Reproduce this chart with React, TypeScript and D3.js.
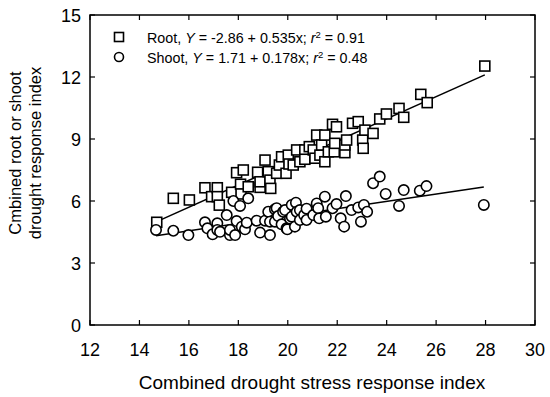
import React from "react";
import * as d3 from "d3";

const xTicks = [12, 14, 16, 18, 20, 22, 24, 26, 28, 30];
const yTicks = [0, 3, 6, 9, 12, 15];

// [combined stress index, root index]
const rootPoints: [number, number][] = [
  [14.7, 4.97], [15.37, 6.13], [16.02, 6.05], [16.65, 6.64], [16.92, 6.21], [17.15, 6.64],
  [17.15, 6.21], [17.23, 5.8], [17.73, 6.42], [17.93, 7.37], [18.09, 6.81], [18.11, 6.34],
  [18.2, 7.5], [18.4, 6.69], [18.78, 7.39], [18.88, 6.66], [18.88, 6.93], [19.08, 7.98],
  [19.21, 7.42], [19.28, 7.01], [19.31, 6.61], [19.55, 7.34], [19.66, 7.74], [19.75, 8.14],
  [19.93, 7.34], [20.02, 8.22], [20.05, 7.79], [20.22, 7.74], [20.36, 8.47], [20.49, 7.9],
  [20.69, 8.47], [20.69, 8.02], [20.87, 8.63], [21.03, 8.47], [21.1, 8.07], [21.17, 9.19],
  [21.3, 8.22], [21.37, 8.71], [21.5, 9.19], [21.5, 7.9], [21.64, 8.38], [21.81, 9.71],
  [21.88, 8.38], [21.9, 8.79], [21.97, 9.59], [22.31, 8.34], [22.31, 8.71], [22.38, 8.95],
  [22.62, 9.76], [22.85, 9.84], [23.03, 8.95], [23.05, 8.55], [23.12, 9.43], [23.45, 9.27],
  [23.72, 9.97], [23.99, 10.21], [24.5, 10.48], [24.69, 10.05], [25.38, 11.16], [25.64, 10.76],
  [27.97, 12.53],
];

// [combined stress index, shoot index]
const shootPoints: [number, number][] = [
  [14.67, 4.6], [15.37, 4.56], [15.98, 4.35], [16.65, 4.97], [16.75, 4.68], [16.96, 4.39],
  [17.15, 4.92], [17.15, 4.6], [17.26, 4.51], [17.53, 5.32], [17.66, 4.35], [17.66, 4.6],
  [17.8, 6.0], [17.87, 4.35], [17.93, 5.03], [18.07, 5.76], [18.14, 4.76], [18.27, 4.63],
  [18.34, 4.95], [18.4, 6.13], [18.74, 5.05], [18.88, 4.47], [19.08, 5.05], [19.21, 5.48],
  [19.28, 4.35], [19.28, 5.0], [19.48, 5.6], [19.48, 5.0], [19.55, 5.65], [19.61, 5.27],
  [19.75, 4.87], [19.81, 5.48], [19.89, 5.56], [19.95, 4.68], [19.98, 4.63], [20.09, 5.15],
  [20.16, 5.81], [20.16, 5.24], [20.29, 4.76], [20.33, 5.92], [20.36, 5.48], [20.49, 5.56],
  [20.49, 5.08], [20.66, 5.32], [20.76, 5.63], [20.76, 5.08], [21.03, 5.32], [21.17, 5.88],
  [21.23, 5.65], [21.27, 5.16], [21.5, 6.21], [21.54, 5.24], [21.81, 5.65], [21.97, 5.85],
  [22.14, 5.16], [22.28, 4.76], [22.35, 6.24], [22.58, 5.56], [22.85, 5.69], [22.96, 5.0],
  [23.08, 5.81], [23.21, 5.48], [23.45, 6.86], [23.72, 7.18], [23.96, 6.34], [24.5, 5.76],
  [24.69, 6.53], [25.34, 6.5], [25.61, 6.72], [27.93, 5.81],
];

// regression fits [intercept, slope]
const rootFit = [-2.86, 0.535];
const shootFit = [1.71, 0.178];

const W = 550;
const H = 397;
const margin = { left: 90, right: 15, top: 15, bottom: 72 };
const font = "Arial, 'Liberation Sans', sans-serif";

const App: React.FC = () => {
  const x = d3.scaleLinear().domain([12, 30]).range([margin.left, W - margin.right]);
  const y = d3.scaleLinear().domain([0, 15]).range([H - margin.bottom, margin.top]);
  const [x0, x1] = x.range();
  const [y0, y1] = y.range();
  const tick = 5;

  const fitLine = (pts: [number, number][], fit: number[]) => {
    const ext = d3.extent(pts, (d) => d[0]) as [number, number];
    const line = d3.line<number>().x((v) => x(v)).y((v) => y(fit[0] + fit[1] * v));
    return line(ext) || "";
  };

  const sq = 10;
  return (
    <svg width={W} height={H} style={{ position: "absolute", left: 0, top: 0 }} fontFamily={font}>
      <rect x={0} y={0} width={W} height={H} fill="#fff" />
      {/* frame */}
      <rect x={x0} y={y1} width={x1 - x0} height={y0 - y1} fill="none" stroke="#000" strokeWidth={1.5} />
      {xTicks.map((t) => (
        <g key={"x" + t}>
          <line x1={x(t)} x2={x(t)} y1={y0} y2={y0 - tick} stroke="#000" strokeWidth={1.2} />
          <line x1={x(t)} x2={x(t)} y1={y1} y2={y1 + tick} stroke="#000" strokeWidth={1.2} />
          <text x={x(t)} y={y0 + 31} fontSize={18} textAnchor="middle">{t}</text>
        </g>
      ))}
      {yTicks.map((t) => (
        <g key={"y" + t}>
          <line x1={x0} x2={x0 + tick} y1={y(t)} y2={y(t)} stroke="#000" strokeWidth={1.2} />
          <line x1={x1} x2={x1 - tick} y1={y(t)} y2={y(t)} stroke="#000" strokeWidth={1.2} />
          <text x={x0 - 9} y={y(t) + 6.5} fontSize={18} textAnchor="end">{t}</text>
        </g>
      ))}
      <text x={312} y={389} fontSize={19} textAnchor="middle">Combined drought stress response index</text>
      <g transform="translate(0,153) rotate(-90)" fontSize={16.5} textAnchor="middle">
        <text x={0} y={21}>Cmbined root or shoot</text>
        <text x={0} y={41}>drought response index</text>
      </g>

      {/* regression lines */}
      <path d={fitLine(rootPoints, rootFit)} fill="none" stroke="#000" strokeWidth={1.5} />
      <path d={fitLine(shootPoints, shootFit)} fill="none" stroke="#000" strokeWidth={1.5} />

      {rootPoints.map((d, i) => (
        <rect key={"r" + i} x={x(d[0]) - sq / 2} y={y(d[1]) - sq / 2} width={sq} height={sq}
          fill="#fff" stroke="#000" strokeWidth={1.6} />
      ))}
      {shootPoints.map((d, i) => (
        <circle key={"s" + i} cx={x(d[0])} cy={y(d[1])} r={5.2} fill="#fff" stroke="#000" strokeWidth={1.6} />
      ))}

      {/* legend */}
      <rect x={119 - 4.5} y={37 - 4.5} width={9} height={9} fill="#fff" stroke="#000" strokeWidth={1.6} />
      <circle cx={119} cy={57} r={4.5} fill="#fff" stroke="#000" strokeWidth={1.6} />
      <text x={147} y={43} fontSize={14.3}>
        Root, <tspan fontStyle="italic">Y</tspan> = -2.86 + 0.535x; <tspan fontStyle="italic">r</tspan>
        <tspan fontSize={9.5} dy={-5}>2</tspan><tspan dy={5}> = 0.91</tspan>
      </text>
      <text x={147} y={63} fontSize={14.3}>
        Shoot, <tspan fontStyle="italic">Y</tspan> = 1.71 + 0.178x; <tspan fontStyle="italic">r</tspan>
        <tspan fontSize={9.5} dy={-5}>2</tspan><tspan dy={5}> = 0.48</tspan>
      </text>
    </svg>
  );
};

export default App;
